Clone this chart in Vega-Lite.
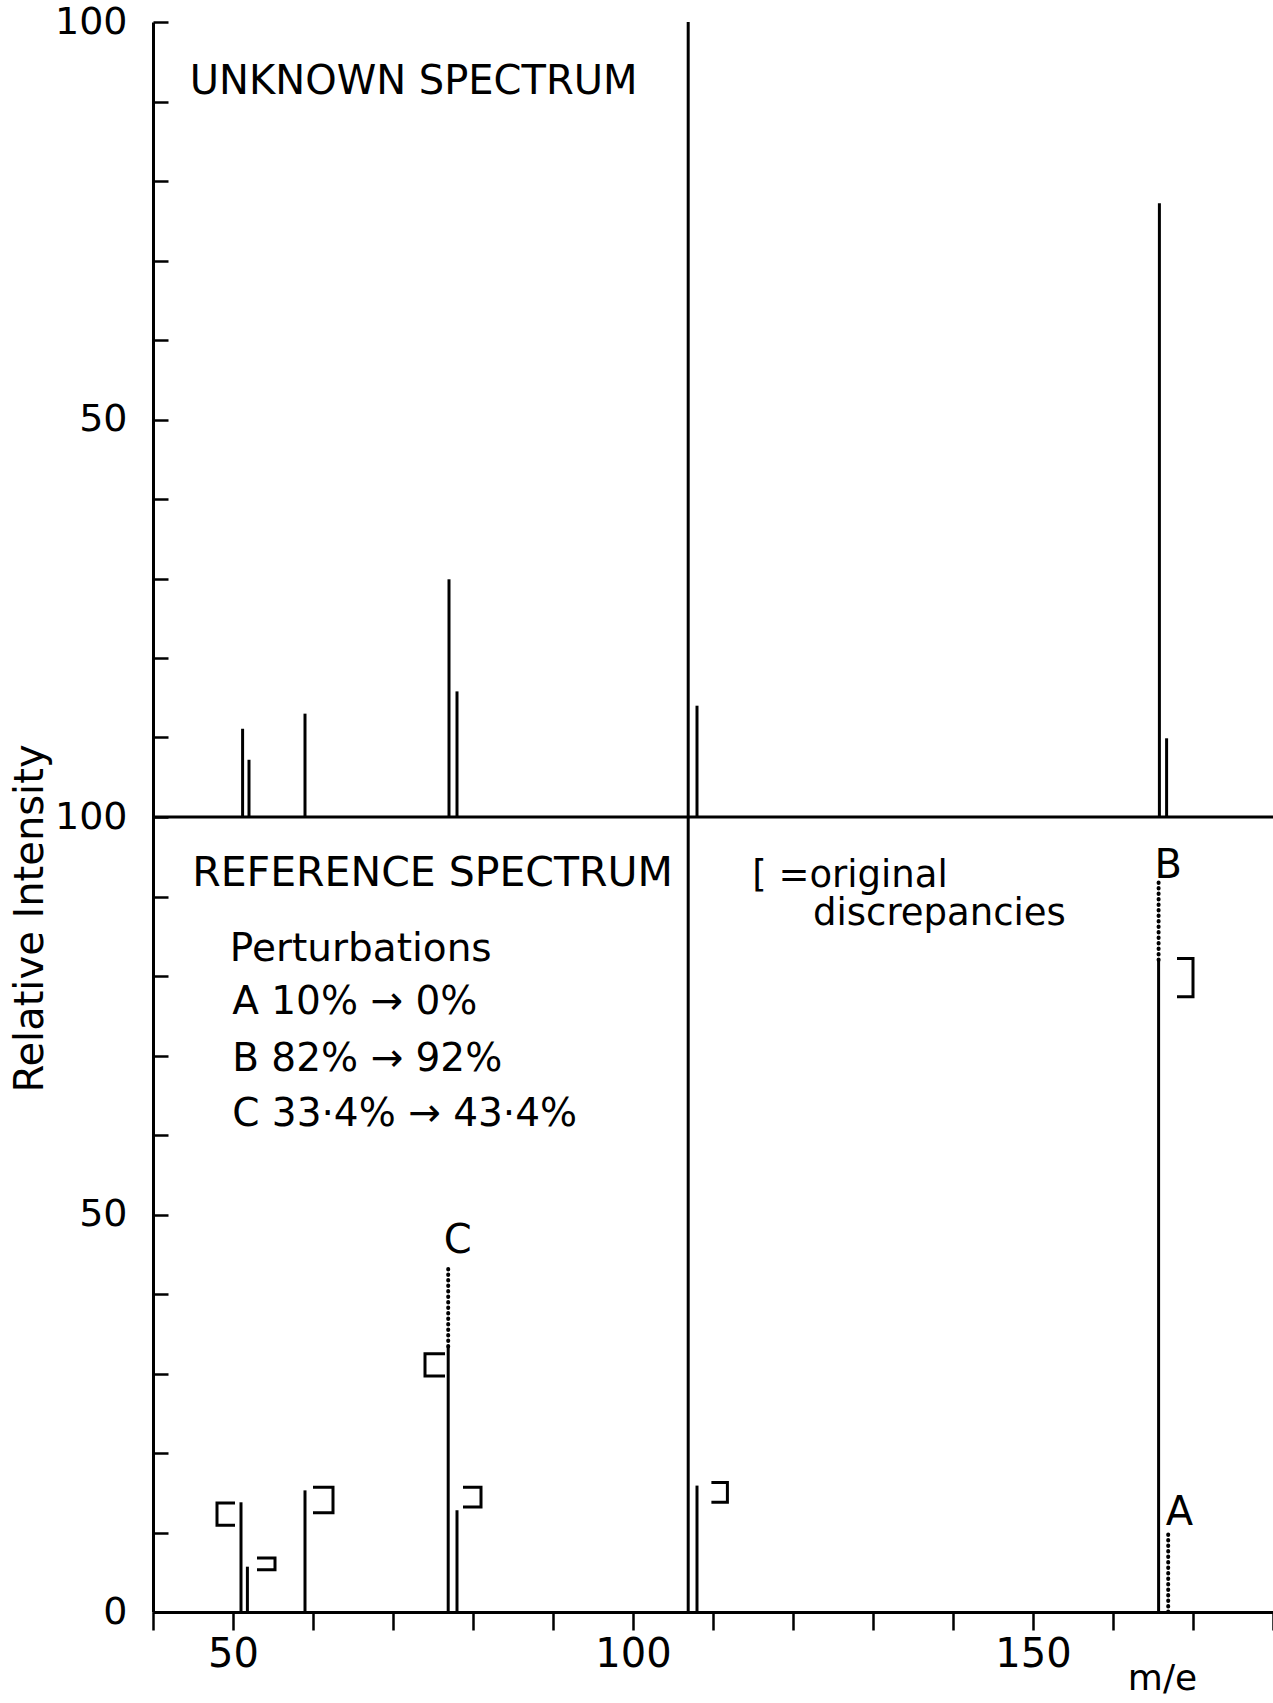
{
  "$schema": "https://vega.github.io/schema/vega-lite/v6.json",
  "width": 1120,
  "height": 1590,
  "autosize": {"type": "none"},
  "padding": {"left": 153, "top": 22, "right": 0, "bottom": 91},
  "background": "white",
  "config": {"view": {"stroke": null}, "font": "DejaVu Sans", "text": {"font": "DejaVu Sans", "color": "black"}},
  "datasets": {
    "unknown": [
      {"mz": 51.2, "pct": 11.1},
      {"mz": 52.0, "pct": 7.2},
      {"mz": 59.0, "pct": 13.0},
      {"mz": 77.0, "pct": 29.9},
      {"mz": 78.0, "pct": 15.8},
      {"mz": 106.9, "pct": 100},
      {"mz": 108.0, "pct": 14.0},
      {"mz": 165.8, "pct": 77.2},
      {"mz": 166.7, "pct": 9.9}
    ],
    "reference": [
      {"mz": 51.0, "from": 0, "to": 13.8, "kind": "measured"},
      {"mz": 51.8, "from": 0, "to": 5.7, "kind": "measured"},
      {"mz": 59.0, "from": 0, "to": 15.3, "kind": "measured"},
      {"mz": 76.9, "from": 0, "to": 33.4, "kind": "measured"},
      {"mz": 76.9, "from": 33.4, "to": 43.4, "kind": "perturbed"},
      {"mz": 78.0, "from": 0, "to": 12.8, "kind": "measured"},
      {"mz": 106.9, "from": 0, "to": 100, "kind": "measured"},
      {"mz": 108.0, "from": 0, "to": 15.9, "kind": "measured"},
      {"mz": 165.7, "from": 0, "to": 82, "kind": "measured"},
      {"mz": 165.7, "from": 82, "to": 92, "kind": "perturbed"},
      {"mz": 166.9, "from": 0, "to": 10, "kind": "perturbed"}
    ],
    "brackets": [
      {"id": "b51", "seq": 1, "mz": 50.25, "pct": 13.7},
      {"id": "b51", "seq": 2, "mz": 48.0, "pct": 13.7},
      {"id": "b51", "seq": 3, "mz": 48.0, "pct": 10.9},
      {"id": "b51", "seq": 4, "mz": 50.25, "pct": 10.9},
      {"id": "b52", "seq": 1, "mz": 53.0, "pct": 6.8},
      {"id": "b52", "seq": 2, "mz": 55.25, "pct": 6.8},
      {"id": "b52", "seq": 3, "mz": 55.25, "pct": 5.3},
      {"id": "b52", "seq": 4, "mz": 53.0, "pct": 5.3},
      {"id": "b59", "seq": 1, "mz": 60.0, "pct": 15.7},
      {"id": "b59", "seq": 2, "mz": 62.5, "pct": 15.7},
      {"id": "b59", "seq": 3, "mz": 62.5, "pct": 12.5},
      {"id": "b59", "seq": 4, "mz": 60.0, "pct": 12.5},
      {"id": "b77", "seq": 1, "mz": 76.5, "pct": 32.5},
      {"id": "b77", "seq": 2, "mz": 74.0, "pct": 32.5},
      {"id": "b77", "seq": 3, "mz": 74.0, "pct": 29.7},
      {"id": "b77", "seq": 4, "mz": 76.5, "pct": 29.7},
      {"id": "b78", "seq": 1, "mz": 78.75, "pct": 15.7},
      {"id": "b78", "seq": 2, "mz": 81.0, "pct": 15.7},
      {"id": "b78", "seq": 3, "mz": 81.0, "pct": 13.2},
      {"id": "b78", "seq": 4, "mz": 78.75, "pct": 13.2},
      {"id": "b108", "seq": 1, "mz": 109.8, "pct": 16.3},
      {"id": "b108", "seq": 2, "mz": 111.8, "pct": 16.3},
      {"id": "b108", "seq": 3, "mz": 111.8, "pct": 13.8},
      {"id": "b108", "seq": 4, "mz": 109.8, "pct": 13.8},
      {"id": "b166", "seq": 1, "mz": 168.0, "pct": 82.2},
      {"id": "b166", "seq": 2, "mz": 170.0, "pct": 82.2},
      {"id": "b166", "seq": 3, "mz": 170.0, "pct": 77.4},
      {"id": "b166", "seq": 4, "mz": 168.0, "pct": 77.4}
    ],
    "texts": [
      {"text": "REFERENCE SPECTRUM", "mz": 44.9, "pct": 92.8, "group": "big"},
      {"text": "Perturbations", "mz": 49.6, "pct": 83.4, "group": "note"},
      {"text": "A 10% → 0%", "mz": 49.9, "pct": 76.7, "group": "note"},
      {"text": "B 82% → 92%", "mz": 49.9, "pct": 69.6, "group": "note"},
      {"text": "C 33·4% → 43·4%", "mz": 49.9, "pct": 62.7, "group": "note"},
      {"text": "[ =original", "mz": 114.9, "pct": 92.6, "group": "legend"},
      {"text": "discrepancies", "mz": 122.5, "pct": 87.8, "group": "legend"},
      {"text": "B", "mz": 166.9, "pct": 93.8, "group": "letter"},
      {"text": "C", "mz": 78.1, "pct": 46.7, "group": "letter"},
      {"text": "A", "mz": 168.3, "pct": 12.5, "group": "letter"},
      {"text": "UNKNOWN SPECTRUM", "mz": 44.6, "pct": 92.5, "group": "top"}
    ],
    "junction": [{"level": 100}]
  },
  "resolve": {"scale": {"y": "independent"}},
  "layer": [
    {
      "data": {"name": "junction"},
      "mark": {"type": "rule", "strokeWidth": 3, "color": "black"},
      "encoding": {
        "y": {
          "field": "level", "type": "quantitative",
          "scale": {"domain": [0, 200], "nice": false, "zero": false},
          "axis": {
            "orient": "left",
            "title": "Relative Intensity",
            "values": [0, 10, 20, 30, 40, 50, 60, 70, 80, 90, 100, 110, 120, 130, 140, 150, 160, 170, 180, 190, 200],
            "labelExpr": "datum.value % 50 === 0 ? (datum.value > 100 ? '' + (datum.value - 100) : datum.label) : ''",
            "grid": false,
            "tickSize": -15, "tickWidth": 2.5, "tickColor": "black",
            "domainWidth": 3, "domainColor": "black",
            "labelFontSize": 38, "labelFont": "DejaVu Sans", "labelColor": "black",
            "labelPadding": 41, "labelOverlap": false, "labelBound": false, "labelFlush": false,
            "titleFontSize": 40, "titleFont": "DejaVu Sans", "titleFontWeight": "normal", "titleColor": "black",
            "titleX": -123, "titleY": 896, "titleAlign": "center", "titleBaseline": "middle"
          }
        }
      }
    },
    {
      "data": {"name": "reference"},
      "transform": [{"filter": "datum.kind === 'measured'"}],
      "mark": {"type": "rule", "strokeWidth": 3, "color": "black"},
      "encoding": {
        "x": {
          "field": "mz", "type": "quantitative", "title": "m/e",
          "scale": {"domain": [40, 180], "nice": false, "zero": false},
          "axis": {"orient": "bottom", "title": "m/e", "values": [40, 50, 60, 70, 80, 90, 100, 110, 120, 130, 140, 150, 160, 170, 180], "labelExpr": "datum.value % 50 === 0 ? datum.label : ''", "grid": false, "tickSize": 18, "tickWidth": 2.5, "tickColor": "black", "domainWidth": 3, "domainColor": "black", "labelFontSize": 40, "labelFont": "DejaVu Sans", "labelColor": "black", "labelPadding": 4, "labelOverlap": false, "labelBound": false, "labelFlush": false, "titleFontSize": 36, "titleFont": "DejaVu Sans", "titleFontWeight": "normal", "titleColor": "black", "titleX": 1009, "titleY": 66, "titleAlign": "center", "titleBaseline": "middle"}
        },
        "y": {"field": "from", "type": "quantitative", "scale": {"domain": [0, 200], "nice": false, "zero": false}, "axis": null},
        "y2": {"field": "to"}
      }
    },
    {
      "data": {"name": "reference"},
      "transform": [{"filter": "datum.kind === 'perturbed'"}],
      "mark": {"type": "rule", "strokeWidth": 4, "color": "black", "strokeDash": [0.5, 5], "strokeCap": "round"},
      "encoding": {
        "x": {
          "field": "mz", "type": "quantitative", "title": "m/e",
          "scale": {"domain": [40, 180], "nice": false, "zero": false},
          "axis": {"orient": "bottom", "title": "m/e", "values": [40, 50, 60, 70, 80, 90, 100, 110, 120, 130, 140, 150, 160, 170, 180], "labelExpr": "datum.value % 50 === 0 ? datum.label : ''", "grid": false, "tickSize": 18, "tickWidth": 2.5, "tickColor": "black", "domainWidth": 3, "domainColor": "black", "labelFontSize": 40, "labelFont": "DejaVu Sans", "labelColor": "black", "labelPadding": 4, "labelOverlap": false, "labelBound": false, "labelFlush": false, "titleFontSize": 36, "titleFont": "DejaVu Sans", "titleFontWeight": "normal", "titleColor": "black", "titleX": 1009, "titleY": 66, "titleAlign": "center", "titleBaseline": "middle"}
        },
        "y": {"field": "from", "type": "quantitative", "scale": {"domain": [0, 200], "nice": false, "zero": false}, "axis": null},
        "y2": {"field": "to"}
      }
    },
    {
      "data": {"name": "brackets"},
      "mark": {"type": "line", "strokeWidth": 3, "color": "black", "strokeJoin": "miter"},
      "encoding": {
        "x": {
          "field": "mz", "type": "quantitative", "title": "m/e",
          "scale": {"domain": [40, 180], "nice": false, "zero": false},
          "axis": {"orient": "bottom", "title": "m/e", "values": [40, 50, 60, 70, 80, 90, 100, 110, 120, 130, 140, 150, 160, 170, 180], "labelExpr": "datum.value % 50 === 0 ? datum.label : ''", "grid": false, "tickSize": 18, "tickWidth": 2.5, "tickColor": "black", "domainWidth": 3, "domainColor": "black", "labelFontSize": 40, "labelFont": "DejaVu Sans", "labelColor": "black", "labelPadding": 4, "labelOverlap": false, "labelBound": false, "labelFlush": false, "titleFontSize": 36, "titleFont": "DejaVu Sans", "titleFontWeight": "normal", "titleColor": "black", "titleX": 1009, "titleY": 66, "titleAlign": "center", "titleBaseline": "middle"}
        },
        "y": {"field": "pct", "type": "quantitative", "scale": {"domain": [0, 200], "nice": false, "zero": false}, "axis": null},
        "detail": {"field": "id", "type": "nominal"},
        "order": {"field": "seq", "type": "quantitative"}
      }
    },
    {
      "data": {"name": "texts"},
      "transform": [{"filter": "datum.group === 'big'"}],
      "mark": {"type": "text", "fontSize": 41, "align": "left", "baseline": "middle", "color": "black"},
      "encoding": {
        "x": {
          "field": "mz", "type": "quantitative", "title": "m/e",
          "scale": {"domain": [40, 180], "nice": false, "zero": false},
          "axis": {"orient": "bottom", "title": "m/e", "values": [40, 50, 60, 70, 80, 90, 100, 110, 120, 130, 140, 150, 160, 170, 180], "labelExpr": "datum.value % 50 === 0 ? datum.label : ''", "grid": false, "tickSize": 18, "tickWidth": 2.5, "tickColor": "black", "domainWidth": 3, "domainColor": "black", "labelFontSize": 40, "labelFont": "DejaVu Sans", "labelColor": "black", "labelPadding": 4, "labelOverlap": false, "labelBound": false, "labelFlush": false, "titleFontSize": 36, "titleFont": "DejaVu Sans", "titleFontWeight": "normal", "titleColor": "black", "titleX": 1009, "titleY": 66, "titleAlign": "center", "titleBaseline": "middle"}
        },
        "y": {"field": "pct", "type": "quantitative", "scale": {"domain": [0, 200], "nice": false, "zero": false}, "axis": null},
        "text": {"field": "text"}
      }
    },
    {
      "data": {"name": "texts"},
      "transform": [{"filter": "datum.group === 'note'"}],
      "mark": {"type": "text", "fontSize": 39, "align": "left", "baseline": "middle", "color": "black"},
      "encoding": {
        "x": {
          "field": "mz", "type": "quantitative", "title": "m/e",
          "scale": {"domain": [40, 180], "nice": false, "zero": false},
          "axis": {"orient": "bottom", "title": "m/e", "values": [40, 50, 60, 70, 80, 90, 100, 110, 120, 130, 140, 150, 160, 170, 180], "labelExpr": "datum.value % 50 === 0 ? datum.label : ''", "grid": false, "tickSize": 18, "tickWidth": 2.5, "tickColor": "black", "domainWidth": 3, "domainColor": "black", "labelFontSize": 40, "labelFont": "DejaVu Sans", "labelColor": "black", "labelPadding": 4, "labelOverlap": false, "labelBound": false, "labelFlush": false, "titleFontSize": 36, "titleFont": "DejaVu Sans", "titleFontWeight": "normal", "titleColor": "black", "titleX": 1009, "titleY": 66, "titleAlign": "center", "titleBaseline": "middle"}
        },
        "y": {"field": "pct", "type": "quantitative", "scale": {"domain": [0, 200], "nice": false, "zero": false}, "axis": null},
        "text": {"field": "text"}
      }
    },
    {
      "data": {"name": "texts"},
      "transform": [{"filter": "datum.group === 'legend'"}],
      "mark": {"type": "text", "fontSize": 37, "align": "left", "baseline": "middle", "color": "black"},
      "encoding": {
        "x": {
          "field": "mz", "type": "quantitative", "title": "m/e",
          "scale": {"domain": [40, 180], "nice": false, "zero": false},
          "axis": {"orient": "bottom", "title": "m/e", "values": [40, 50, 60, 70, 80, 90, 100, 110, 120, 130, 140, 150, 160, 170, 180], "labelExpr": "datum.value % 50 === 0 ? datum.label : ''", "grid": false, "tickSize": 18, "tickWidth": 2.5, "tickColor": "black", "domainWidth": 3, "domainColor": "black", "labelFontSize": 40, "labelFont": "DejaVu Sans", "labelColor": "black", "labelPadding": 4, "labelOverlap": false, "labelBound": false, "labelFlush": false, "titleFontSize": 36, "titleFont": "DejaVu Sans", "titleFontWeight": "normal", "titleColor": "black", "titleX": 1009, "titleY": 66, "titleAlign": "center", "titleBaseline": "middle"}
        },
        "y": {"field": "pct", "type": "quantitative", "scale": {"domain": [0, 200], "nice": false, "zero": false}, "axis": null},
        "text": {"field": "text"}
      }
    },
    {
      "data": {"name": "texts"},
      "transform": [{"filter": "datum.group === 'letter'"}],
      "mark": {"type": "text", "fontSize": 40, "align": "center", "baseline": "middle", "color": "black"},
      "encoding": {
        "x": {
          "field": "mz", "type": "quantitative", "title": "m/e",
          "scale": {"domain": [40, 180], "nice": false, "zero": false},
          "axis": {"orient": "bottom", "title": "m/e", "values": [40, 50, 60, 70, 80, 90, 100, 110, 120, 130, 140, 150, 160, 170, 180], "labelExpr": "datum.value % 50 === 0 ? datum.label : ''", "grid": false, "tickSize": 18, "tickWidth": 2.5, "tickColor": "black", "domainWidth": 3, "domainColor": "black", "labelFontSize": 40, "labelFont": "DejaVu Sans", "labelColor": "black", "labelPadding": 4, "labelOverlap": false, "labelBound": false, "labelFlush": false, "titleFontSize": 36, "titleFont": "DejaVu Sans", "titleFontWeight": "normal", "titleColor": "black", "titleX": 1009, "titleY": 66, "titleAlign": "center", "titleBaseline": "middle"}
        },
        "y": {"field": "pct", "type": "quantitative", "scale": {"domain": [0, 200], "nice": false, "zero": false}, "axis": null},
        "text": {"field": "text"}
      }
    },
    {
      "data": {"name": "unknown"},
      "mark": {"type": "rule", "strokeWidth": 3, "color": "black"},
      "encoding": {
        "x": {
          "field": "mz", "type": "quantitative", "title": "m/e",
          "scale": {"domain": [40, 180], "nice": false, "zero": false},
          "axis": {"orient": "bottom", "title": "m/e", "values": [40, 50, 60, 70, 80, 90, 100, 110, 120, 130, 140, 150, 160, 170, 180], "labelExpr": "datum.value % 50 === 0 ? datum.label : ''", "grid": false, "tickSize": 18, "tickWidth": 2.5, "tickColor": "black", "domainWidth": 3, "domainColor": "black", "labelFontSize": 40, "labelFont": "DejaVu Sans", "labelColor": "black", "labelPadding": 4, "labelOverlap": false, "labelBound": false, "labelFlush": false, "titleFontSize": 36, "titleFont": "DejaVu Sans", "titleFontWeight": "normal", "titleColor": "black", "titleX": 1009, "titleY": 66, "titleAlign": "center", "titleBaseline": "middle"}
        },
        "y": {"field": "pct", "type": "quantitative", "scale": {"domain": [-100, 100], "nice": false, "zero": false}, "axis": null},
        "y2": {"datum": 0}
      }
    },
    {
      "data": {"name": "texts"},
      "transform": [{"filter": "datum.group === 'top'"}],
      "mark": {"type": "text", "fontSize": 40, "align": "left", "baseline": "middle", "color": "black"},
      "encoding": {
        "x": {
          "field": "mz", "type": "quantitative", "title": "m/e",
          "scale": {"domain": [40, 180], "nice": false, "zero": false},
          "axis": {"orient": "bottom", "title": "m/e", "values": [40, 50, 60, 70, 80, 90, 100, 110, 120, 130, 140, 150, 160, 170, 180], "labelExpr": "datum.value % 50 === 0 ? datum.label : ''", "grid": false, "tickSize": 18, "tickWidth": 2.5, "tickColor": "black", "domainWidth": 3, "domainColor": "black", "labelFontSize": 40, "labelFont": "DejaVu Sans", "labelColor": "black", "labelPadding": 4, "labelOverlap": false, "labelBound": false, "labelFlush": false, "titleFontSize": 36, "titleFont": "DejaVu Sans", "titleFontWeight": "normal", "titleColor": "black", "titleX": 1009, "titleY": 66, "titleAlign": "center", "titleBaseline": "middle"}
        },
        "y": {"field": "pct", "type": "quantitative", "scale": {"domain": [-100, 100], "nice": false, "zero": false}, "axis": null},
        "text": {"field": "text"}
      }
    }
  ]
}
